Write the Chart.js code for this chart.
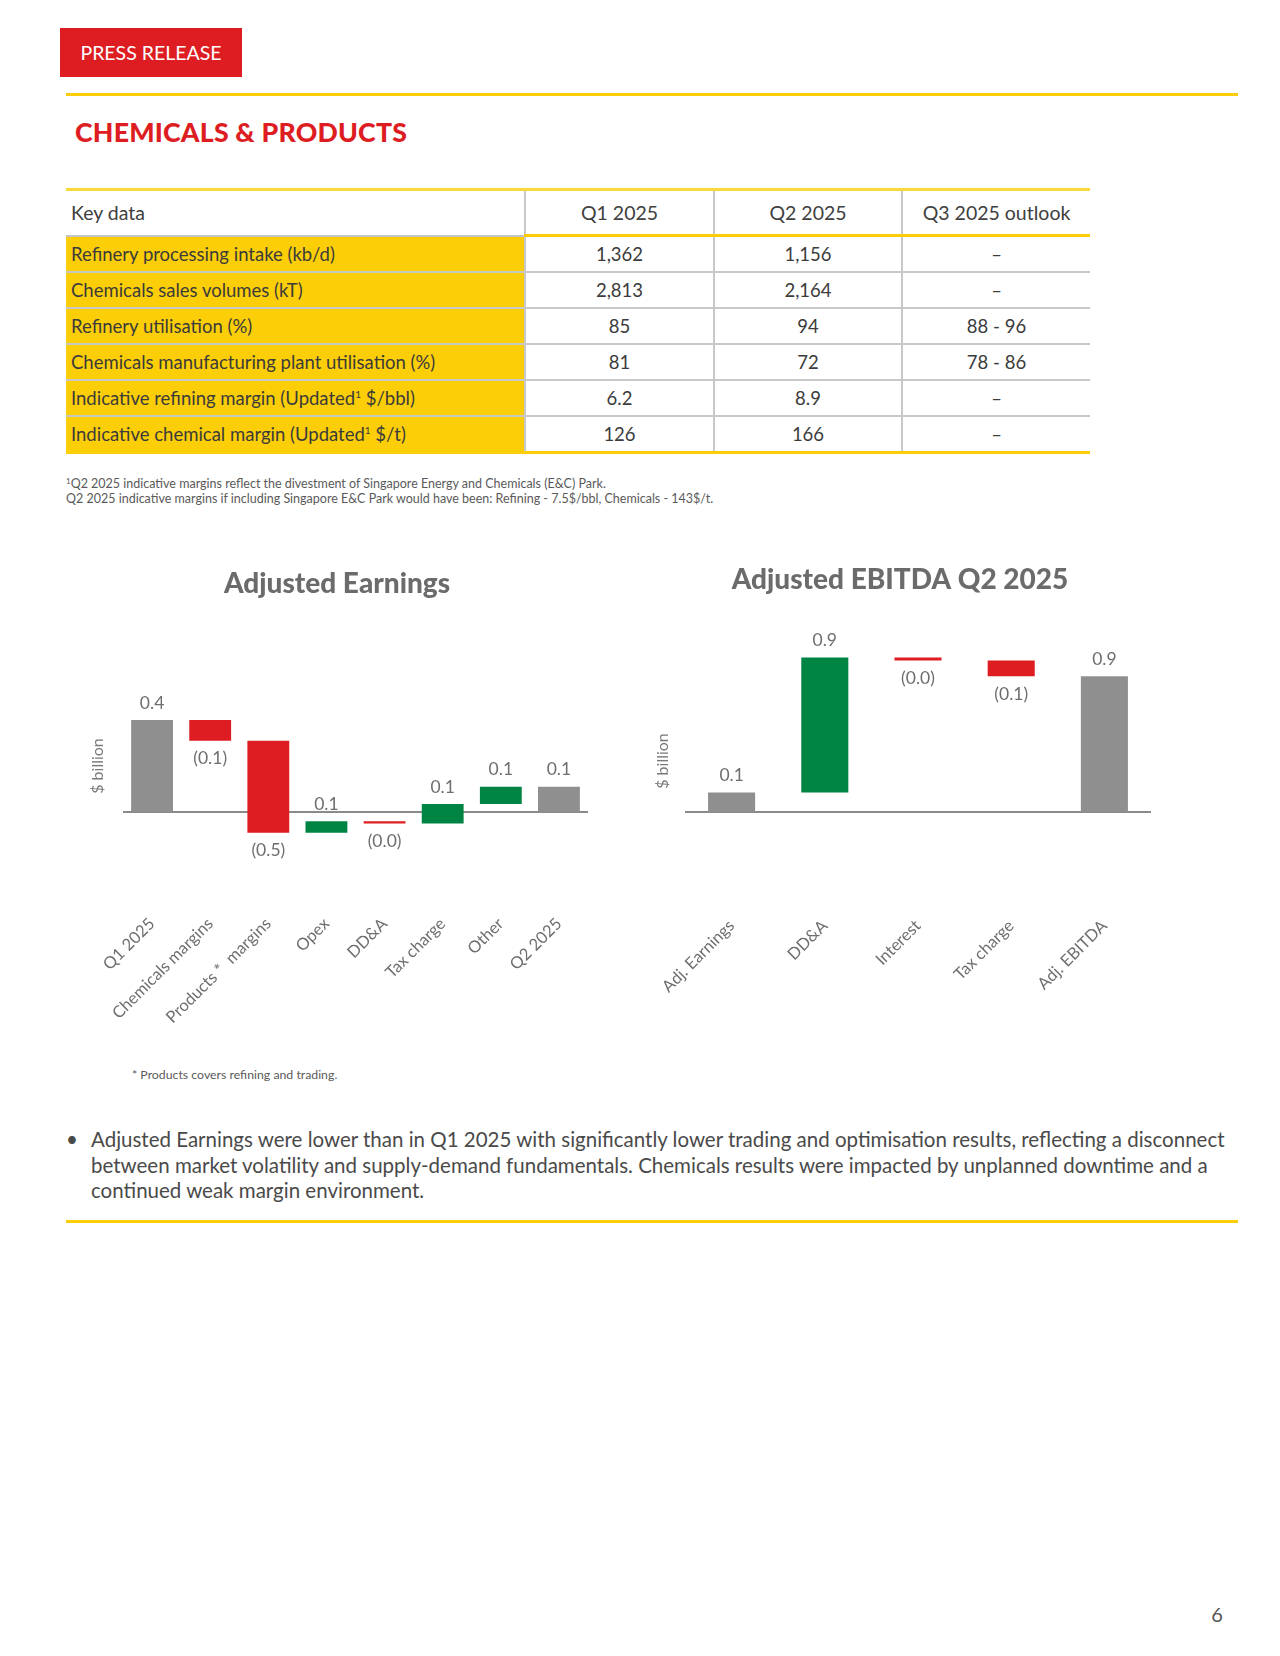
<!DOCTYPE html>
<html>
<head>
<meta charset="utf-8">
<title>Chemicals & Products</title>
<script src="https://cdn.jsdelivr.net/npm/chart.js@4.4.1/dist/chart.umd.min.js"></script>
<style>
  html, body { margin: 0; padding: 0; background: #fff; }
  body { width: 1280px; height: 1656px; position: relative; font-family: Lato, "Noto Sans", sans-serif; color: #3b3b3b; }
  .badge { position: absolute; left: 60px; top: 28px; width: 182px; height: 49px; background: #dd1d21; color: #fff;
           font-size: 19.5px; line-height: 49px; text-align: center; }
  .rule { position: absolute; left: 66px; width: 1172px; height: 3px; background: #fbce07; }
  h1 { position: absolute; left: 75px; top: 115px; margin: 0; font-size: 26.7px; line-height: 34px; font-weight: 900; color: #dd1d21; letter-spacing: 0.2px; }
  #keydata { position: absolute; left: 66px; top: 188px; width: 1024px; border-collapse: collapse; table-layout: fixed; }
  #keydata th, #keydata td { padding: 0; font-weight: normal; color: #3b3b3b; white-space: nowrap; }
  #keydata th { height: 43px; font-size: 19.5px; text-align: center; color: #404040; border-top: 3px solid #f9d93a; border-bottom: 3px solid #fbce07; }
  #keydata th:first-child { text-align: left; padding-left: 5px; border-bottom: 2px solid #c4c4c4; }
  #keydata th + th { border-left: 2px solid #c8c8c8; }
  #keydata td { height: 34px; font-size: 18.5px; text-align: center; border-bottom: 2px solid #c8c8c8; border-left: 2px solid #c8c8c8; }
  #keydata td:first-child { background: #fbce07; text-align: left; padding-left: 5px; border-left: none; }
  #keydata tr:last-child td { border-bottom: 3px solid #fbce07; }
  #keydata sup { font-size: 10px; vertical-align: 7px; line-height: 0; }
  .note { position: absolute; left: 66px; top: 476px; font-size: 12.5px; line-height: 15px; color: #5a5a5a; white-space: nowrap; }
  .note sup { font-size: 8px; vertical-align: 4px; line-height: 0; }
  .chartbox { position: absolute; top: 540px; height: 500px; }
  #earningsBox { left: 57px; width: 560px; }
  #ebitdaBox { left: 640px; width: 520px; }
  .foot { position: absolute; left: 132px; top: 1067px; font-size: 12.3px; line-height: 16px; color: #5a5a5a; white-space: nowrap; }
  .bullet { position: absolute; left: 66px; top: 1127px; font-size: 20.5px; line-height: 25.5px; color: #4a4a4a; }
  .bullet .dot { position: absolute; left: 0; top: 0; }
  .bullet .text { position: absolute; left: 25px; top: 0; white-space: nowrap; }
  .pageno { position: absolute; left: 1205px; top: 1601px; width: 24px; text-align: center; font-size: 20px; line-height: 26px; color: #555; }
</style>
</head>
<body>
  <div class="badge">PRESS RELEASE</div>
  <div class="rule" style="top:93px"></div>
  <h1>CHEMICALS &amp; PRODUCTS</h1>

  <table id="keydata">
    <colgroup><col style="width:459px"><col style="width:189px"><col style="width:188px"><col style="width:188px"></colgroup>
    <thead><tr id="headRow"></tr></thead>
    <tbody id="bodyRows"></tbody>
  </table>

  <div class="note">
    <sup>1</sup>Q2 2025 indicative margins reflect the divestment of Singapore Energy and Chemicals (E&amp;C) Park.<br>
    Q2 2025 indicative margins if including Singapore E&amp;C Park would have been: Refining - 7.5$/bbl, Chemicals - 143$/t.
  </div>

  <div class="chartbox" id="earningsBox"><canvas id="earningsChart"></canvas></div>
  <div class="chartbox" id="ebitdaBox"><canvas id="ebitdaChart"></canvas></div>

  <div class="foot">* Products covers refining and trading.</div>

  <div class="bullet">
    <span class="dot">•</span>
    <span class="text">Adjusted Earnings were lower than in Q1 2025 with significantly lower trading and optimisation results, reflecting a disconnect<br>between market volatility and supply-demand fundamentals. Chemicals results were impacted by unplanned downtime and a<br>continued weak margin environment.</span>
  </div>
  <div class="rule" style="top:1220px"></div>
  <div class="pageno">6</div>

<script>
// ---- key data table ----
const tableHeaders = ['Key data', 'Q1 2025', 'Q2 2025', 'Q3 2025 outlook'];
const rowLabels = [
  'Refinery processing intake (kb/d)',
  'Chemicals sales volumes (kT)',
  'Refinery utilisation (%)',
  'Chemicals manufacturing plant utilisation (%)',
  'Indicative refining margin (Updated<sup>1</sup> $/bbl)',
  'Indicative chemical margin (Updated<sup>1</sup> $/t)'
];
const q1Values = ['1,362', '2,813', '85', '81', '6.2', '126'];
const q2Values = ['1,156', '2,164', '94', '72', '8.9', '166'];
const q3Outlook = ['–', '–', '88 - 96', '78 - 86', '–', '–'];

// ---- Adjusted Earnings waterfall ($ billion) ----
const earningsCategories = ['Q1 2025', 'Chemicals margins', 'Products *  margins', 'Opex', 'DD&A', 'Tax charge', 'Other', 'Q2 2025'];
const earningsKinds = ['total', 'delta', 'delta', 'delta', 'delta', 'delta', 'delta', 'total'];
const earningsValues = [0.40, -0.09, -0.40, 0.05, -0.01, 0.085, 0.075, 0.11];
const earningsLabels = ['0.4', '(0.1)', '(0.5)', '0.1', '(0.0)', '0.1', '0.1', '0.1'];

// ---- Adjusted EBITDA Q2 2025 waterfall ($ billion) ----
const ebitdaCategories = ['Adj. Earnings', 'DD&A', 'Interest', 'Tax charge', 'Adj. EBITDA'];
const ebitdaKinds = ['total', 'delta', 'delta', 'delta', 'total'];
const ebitdaValues = [0.13, 0.90, -0.02, -0.105, 0.905];
const ebitdaLabels = ['0.1', '0.9', '(0.0)', '(0.1)', '0.9'];

const GREY = '#8f8f8f';
const RED = '#dd1d21';
const GREEN = '#008443';
const TEXT_GREY = '#6e6e6e';

Chart.defaults.font.family = 'Lato, "Noto Sans", sans-serif';

// build the table
document.getElementById('headRow').innerHTML = tableHeaders.map(h => '<th>' + h + '</th>').join('');
document.getElementById('bodyRows').innerHTML = rowLabels.map((label, i) =>
  '<tr><td>' + label + '</td><td>' + q1Values[i] + '</td><td>' + q2Values[i] + '</td><td>' + q3Outlook[i] + '</td></tr>'
).join('');

// floating bars: totals start at zero, deltas start at the running level
function waterfall(values, kinds) {
  let level = 0;
  return values.map((v, i) => {
    if (kinds[i] === 'total') { level = v; return [0, v]; }
    const bar = [level, level + v];
    level += v;
    return bar;
  });
}

function barColours(values, kinds) {
  return values.map((v, i) => kinds[i] === 'total' ? GREY : (v < 0 ? RED : GREEN));
}

const zeroLine = {
  id: 'zeroLine',
  beforeDatasetsDraw(chart) {
    const { ctx, chartArea, scales } = chart;
    const y = scales.y.getPixelForValue(0);
    ctx.save();
    ctx.strokeStyle = '#8a8a8a';
    ctx.lineWidth = 2;
    ctx.beginPath();
    ctx.moveTo(chartArea.left, y);
    ctx.lineTo(chartArea.right, y);
    ctx.stroke();
    ctx.restore();
  }
};

function valueLabels(values, labels) {
  return {
    id: 'valueLabels',
    afterDatasetsDraw(chart) {
      const ctx = chart.ctx;
      ctx.save();
      ctx.font = '17.5px Lato';
      ctx.fillStyle = TEXT_GREY;
      ctx.textAlign = 'center';
      ctx.textBaseline = 'middle';
      chart.getDatasetMeta(0).data.forEach((bar, i) => {
        const top = Math.min(bar.y, bar.base);
        const bottom = Math.max(bar.y, bar.base);
        if (values[i] < 0) ctx.fillText(labels[i], bar.x, bottom + 18);
        else ctx.fillText(labels[i], bar.x, top - 17);
      });
      ctx.restore();
    }
  };
}

function waterfallChart(id, cfg) {
  return new Chart(document.getElementById(id), {
    type: 'bar',
    data: {
      labels: cfg.categories,
      datasets: [{
        data: waterfall(cfg.values, cfg.kinds),
        backgroundColor: barColours(cfg.values, cfg.kinds),
        borderWidth: 0,
        categoryPercentage: 1,
        barPercentage: cfg.barPercentage
      }]
    },
    options: {
      responsive: true,
      maintainAspectRatio: false,
      animation: false,
      layout: { padding: { left: cfg.side, right: cfg.side, top: 0, bottom: 0 } },
      plugins: {
        legend: { display: false },
        tooltip: { enabled: false },
        title: {
          display: true,
          text: cfg.title,
          color: '#6b6b6b',
          font: { size: 28, weight: '900' },
          padding: { top: cfg.titleTop, bottom: cfg.titleBottom }
        }
      },
      scales: {
        x: {
          grid: { display: false },
          border: { display: false },
          ticks: { autoSkip: false, minRotation: 45, maxRotation: 45, padding: cfg.tickPad, color: TEXT_GREY, font: { size: 16.5 } },
          // keep the plot area fixed: rotated labels may hang past the edges
          afterFit: s => { s.height = cfg.xHeight; s.paddingLeft = 0; s.paddingRight = 0; }
        },
        y: {
          min: cfg.min,
          max: cfg.max,
          grid: { display: false },
          border: { display: false },
          ticks: { display: false },
          title: { display: true, text: '$ billion', color: '#7a7a7a', font: { size: 16 }, padding: { top: cfg.yTitlePad, bottom: 0 } },
          afterFit: s => { s.width = cfg.yWidth; s.paddingTop = 0; s.paddingBottom = 0; }
        }
      }
    },
    plugins: [zeroLine, valueLabels(cfg.values, cfg.labels)]
  });
}

waterfallChart('earningsChart', {
  title: 'Adjusted Earnings',
  categories: earningsCategories, values: earningsValues, kinds: earningsKinds, labels: earningsLabels,
  barPercentage: 0.72, side: 29, titleTop: 27, titleBottom: 73.4,
  min: -0.2, max: 0.6, yWidth: 37, yTitlePad: 2, xHeight: 182, tickPad: 48
});

waterfallChart('ebitdaChart', {
  title: 'Adjusted EBITDA Q2 2025',
  categories: ebitdaCategories, values: ebitdaValues, kinds: ebitdaKinds, labels: ebitdaLabels,
  barPercentage: 0.505, side: 9, titleTop: 23, titleBottom: 53.4,
  min: -0.4, max: 1.08, yWidth: 36, yTitlePad: 4, xHeight: 168, tickPad: 36
});
</script>
</body>
</html>
